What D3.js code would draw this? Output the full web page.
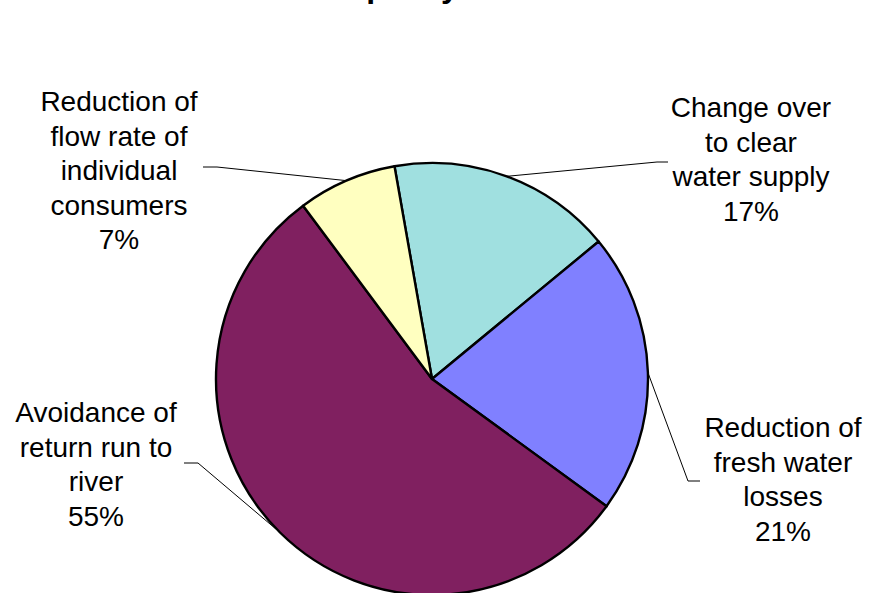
<!DOCTYPE html>
<html><head><meta charset="utf-8">
<script src="https://cdn.jsdelivr.net/npm/d3@7"></script>
<style>body{margin:0;background:#fff}svg{display:block}text{font-family:"Liberation Sans",Arial,sans-serif}</style>
</head><body>
<svg id="c" width="870" height="593"></svg>
<script>
const categories = [
  ["Change over", "to clear", "water supply"],
  ["Reduction of", "fresh water", "losses"],
  ["Avoidance of", "return run to", "river"],
  ["Reduction of", "flow rate of", "individual", "consumers"]
];
const values = [16.8, 21.0, 54.8, 7.4];
const percentLabels = ["17%", "21%", "55%", "7%"];
const colors = ["#A0E0E0", "#8080FF", "#802060", "#FFFFC0"];
const titleText = "Water capacity";

// layout
const cx = 432, cy = 379, R = 216;
const labelLayout = [
  {x: 751, y: 117, elbow: [668, 657], ey: 162},
  {x: 783, y: 437, elbow: [700, 688], ey: 481},
  {x: 96,  y: 422, elbow: [184, 198], ey: 463},
  {x: 119, y: 111, elbow: [203, 217], ey: 167}
];
const lineH = 34.5;

const svg = d3.select("#c");
svg.append("text").attr("x", 234).attr("y", -3)
  .attr("font-size", 32).attr("font-weight", "bold").attr("fill", "#000").text(titleText);

const start = -10 * Math.PI / 180;
const pie = d3.pie().sort(null).startAngle(start).endAngle(start + 2 * Math.PI);
const arcs = pie(values);
const arc = d3.arc().innerRadius(0).outerRadius(R);
const g = svg.append("g").attr("transform", `translate(${cx},${cy})`);
g.selectAll("path").data(arcs).join("path")
  .attr("d", arc).attr("fill", (d, i) => colors[i])
  .attr("stroke", "#000").attr("stroke-width", 2.4).attr("stroke-linejoin", "round");

// leader lines
arcs.forEach((d, i) => {
  const a = (d.startAngle + d.endAngle) / 2;
  const px = cx + R * Math.sin(a), py = cy - R * Math.cos(a);
  const L = labelLayout[i];
  svg.append("polyline")
    .attr("points", `${L.elbow[0]},${L.ey} ${L.elbow[1]},${L.ey} ${px},${py}`)
    .attr("fill", "none").attr("stroke", "#000").attr("stroke-width", 1);
});

// labels
categories.forEach((lines, i) => {
  const L = labelLayout[i];
  const t = svg.append("text").attr("text-anchor", "middle").attr("font-size", 28).attr("fill", "#000");
  lines.concat([percentLabels[i]]).forEach((s, k) => {
    t.append("tspan").attr("x", L.x).attr("y", L.y + k * lineH).text(s);
  });
});
</script>
</body></html>
